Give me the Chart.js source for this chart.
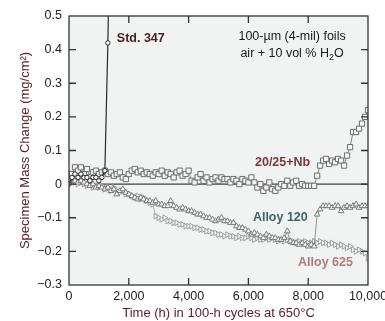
<!DOCTYPE html>
<html>
<head>
<meta charset="utf-8">
<script src="https://cdn.jsdelivr.net/npm/chart.js@4.4.0/dist/chart.umd.min.js"></script>
<style>
  html, body { margin: 0; padding: 0; background: #fff; }
  #chart { display: block; }
</style>
</head>
<body>
<canvas id="chart" width="385" height="321"></canvas>
<script>
// time axis: one reading per 100-h cycle
const hours = [
  0, 100, 200, 300, 400, 500, 600, 700, 800, 900,
  1000, 1100, 1200, 1300, 1400, 1500, 1600, 1700, 1800, 1900,
  2000, 2100, 2200, 2300, 2400, 2500, 2600, 2700, 2800, 2900,
  3000, 3100, 3200, 3300, 3400, 3500, 3600, 3700, 3800, 3900,
  4000, 4100, 4200, 4300, 4400, 4500, 4600, 4700, 4800, 4900,
  5000, 5100, 5200, 5300, 5400, 5500, 5600, 5700, 5800, 5900,
  6000, 6100, 6200, 6300, 6400, 6500, 6600, 6700, 6800, 6900,
  7000, 7100, 7200, 7300, 7400, 7500, 7600, 7700, 7800, 7900,
  8000, 8100, 8200, 8300, 8400, 8500, 8600, 8700, 8800, 8900,
  9000, 9100, 9200, 9300, 9400, 9500, 9600, 9700, 9800, 9900,
  10000
];

const std347 = [
  0.0, 0.02, 0.03, 0.02, 0.03, 0.02, 0.02, 0.01, 0.02, 0.02,
  0.01, 0.02, 0.04, 0.42, 0.95
];

const nb2025 = [
  0.01, 0.03, 0.05, 0.04, 0.05, 0.03, 0.045, 0.02, 0.035, 0.04,
  0.03, 0.035, 0.04, 0.03, 0.035, 0.025, 0.03, 0.035, 0.02, 0.015,
  0.03, 0.04, 0.045, 0.035, 0.04, 0.03, 0.035, 0.03, 0.025, 0.035,
  0.03, 0.04, 0.025, 0.035, 0.03, 0.02, 0.035, 0.04, 0.025, 0.03,
  0.04, 0.01, 0.005, 0.02, 0.03, 0.01, 0.02, 0.005, 0.015, 0.02,
  0.01, 0.02, 0.015, 0.015, 0.005, 0.015, 0.01, 0.0, 0.015, 0.01,
  0.005, 0.02, 0.005, -0.01, 0.0, -0.02, -0.01, 0.005, -0.015, -0.02,
  -0.01, 0.0, -0.005, 0.01, -0.005, 0.005, 0.01, -0.005, 0.0, -0.005,
  -0.005, -0.005, -0.005, 0.025, 0.055, 0.07, 0.075, 0.06, 0.07, 0.065,
  0.075, 0.07, 0.055, 0.085, 0.11, 0.155, 0.155, 0.165, 0.18, 0.2,
  0.22
];

const alloy120 = [
  0.01, 0.015, 0.01, 0.005, 0.01, 0.005, 0.0, -0.005, 0.0, -0.01,
  -0.005, -0.01, -0.015, -0.01, -0.02, -0.015, -0.03, -0.02, -0.015, -0.025,
  -0.03, -0.035, -0.04, -0.045, -0.04, -0.045, -0.05, -0.05, -0.055, -0.05,
  -0.06, -0.06, -0.065, -0.065, -0.05, -0.065, -0.07, -0.075, -0.07, -0.075,
  -0.08, -0.08, -0.085, -0.09, -0.09, -0.095, -0.1, -0.1, -0.105, -0.11,
  -0.105, -0.1, -0.11, -0.11, -0.115, -0.115, -0.125, -0.13, -0.13, -0.135,
  -0.14, -0.15, -0.145, -0.15, -0.155, -0.16, -0.15, -0.155, -0.16, -0.16,
  -0.165, -0.165, -0.16, -0.14, -0.17, -0.175, -0.175, -0.18, -0.175, -0.18,
  -0.185, -0.18, -0.185, -0.09, -0.075, -0.065, -0.065, -0.065, -0.07, -0.065,
  -0.065, -0.08, -0.07, -0.065, -0.07, -0.065, -0.06, -0.07, -0.065, -0.065,
  -0.065
];

const alloy625 = [
  0.0, 0.01, 0.005, 0.0, 0.005, 0.0, -0.005, 0.0, -0.01, -0.005,
  -0.01, -0.005, -0.015, -0.01, -0.02, -0.01, -0.02, -0.025, -0.02, -0.03,
  -0.03, -0.035, -0.04, -0.035, -0.045, -0.04, -0.05, -0.055, -0.06, -0.095,
  -0.1, -0.105, -0.1, -0.11, -0.11, -0.115, -0.115, -0.12, -0.12, -0.125,
  -0.125, -0.125, -0.13, -0.13, -0.135, -0.135, -0.14, -0.14, -0.145, -0.145,
  -0.15, -0.15, -0.155, -0.15, -0.155, -0.155, -0.16, -0.155, -0.16, -0.16,
  -0.155, -0.16, -0.165, -0.16, -0.165, -0.165, -0.16, -0.165, -0.16, -0.165,
  -0.17, -0.165, -0.17, -0.165, -0.17, -0.17, -0.175, -0.17, -0.175, -0.17,
  -0.175, -0.175, -0.17, -0.175, -0.17, -0.175, -0.175, -0.18, -0.175, -0.18,
  -0.185, -0.18, -0.185, -0.19, -0.185, -0.195, -0.2, -0.195, -0.2, -0.205,
  -0.22
];

const xTicks = [0, 2000, 4000, 6000, 8000, 10000];
const yTicks = [-0.3, -0.2, -0.1, 0, 0.1, 0.2, 0.3, 0.4, 0.5];

const FONT = '"Liberation Sans", Arial, Helvetica, sans-serif';
Chart.defaults.font.family = FONT;

function toPoints(values) {
  return values.map((y, i) => ({ x: hours[i], y: y }));
}

function fmtY(v) {
  const r = Math.round(v * 10) / 10;
  if (r === 0) return '0';
  return r < 0 ? '\u2212' + Math.abs(r).toFixed(1) : r.toFixed(1);
}

// labels inside the plot, anchored in data coordinates
const notes = [
  { text: 'Std. 347', x: 1600, y: 0.433, color: '#4a1c22' },
  { text: '20/25+Nb', x: 6220, y: 0.065, color: '#7d3838' },
  { text: 'Alloy 120', x: 6150, y: -0.098, color: '#3f6366' },
  { text: 'Alloy 625', x: 7660, y: -0.232, color: '#b07c7c' }
];

const framePlugin = {
  id: 'frame',
  beforeDraw(chart) {
    const { ctx, chartArea: a } = chart;
    ctx.save();
    ctx.fillStyle = '#f1f2f2';
    ctx.fillRect(a.left, a.top, a.right - a.left, a.bottom - a.top);
    // zero line
    const y0 = chart.scales.y.getPixelForValue(0);
    ctx.strokeStyle = '#3c3c3c';
    ctx.lineWidth = 1.2;
    ctx.beginPath();
    ctx.moveTo(a.left, y0);
    ctx.lineTo(a.right, y0);
    ctx.stroke();
    ctx.restore();
  },
  afterDatasetsDraw(chart) {
    const { ctx, chartArea: a, scales } = chart;
    ctx.save();
    ctx.strokeStyle = '#333';
    ctx.lineWidth = 1.3;
    ctx.strokeRect(a.left, a.top, a.right - a.left, a.bottom - a.top);

    // inward tick marks on all four sides
    const len = 7;
    ctx.beginPath();
    scales.x.ticks.forEach(t => {
      if (t.value <= 0 || t.value >= 10000) return;
      const px = scales.x.getPixelForValue(t.value);
      ctx.moveTo(px, a.bottom); ctx.lineTo(px, a.bottom - len);
      ctx.moveTo(px, a.top); ctx.lineTo(px, a.top + len);
    });
    scales.y.ticks.forEach(t => {
      if (t.value <= -0.3 || t.value >= 0.5) return;
      const py = scales.y.getPixelForValue(t.value);
      ctx.moveTo(a.left, py); ctx.lineTo(a.left + len, py);
      ctx.moveTo(a.right, py); ctx.lineTo(a.right - len, py);
    });
    ctx.stroke();

    // series labels
    ctx.textBaseline = 'middle';
    ctx.textAlign = 'left';
    ctx.font = 'bold 12.5px ' + FONT;
    notes.forEach(n => {
      ctx.fillStyle = n.color;
      ctx.fillText(n.text, scales.x.getPixelForValue(n.x), scales.y.getPixelForValue(n.y));
    });

    // test conditions
    ctx.fillStyle = '#1a1a1a';
    ctx.font = '12.5px ' + FONT;
    ctx.textAlign = 'center';
    const cx = scales.x.getPixelForValue(7460);
    ctx.fillText('100-\u00b5m (4-mil) foils', cx, scales.y.getPixelForValue(0.438));
    const ly = scales.y.getPixelForValue(0.388);
    const p1 = 'air + 10 vol % H', p3 = 'O';
    const w1 = ctx.measureText(p1).width;
    const w3 = ctx.measureText(p3).width;
    ctx.font = '9px ' + FONT;
    const w2 = ctx.measureText('2').width;
    const sx = cx - (w1 + w2 + w3) / 2;
    ctx.textAlign = 'left';
    ctx.font = '12.5px ' + FONT;
    ctx.fillText(p1, sx, ly);
    ctx.font = '9px ' + FONT;
    ctx.fillText('2', sx + w1, ly + 4);
    ctx.font = '12.5px ' + FONT;
    ctx.fillText(p3, sx + w1 + w2, ly);
    ctx.restore();
  }
};

const ctx = document.getElementById('chart').getContext('2d');
const chart = new Chart(ctx, {
  type: 'line',
  data: {
    datasets: [
      {
        label: 'Std. 347',
        data: toPoints(std347),
        borderColor: '#2a2a2a',
        borderWidth: 1.2,
        pointStyle: 'circle',
        pointRadius: 2.2,
        pointBorderWidth: 1,
        pointBorderColor: '#2a2a2a',
        pointBackgroundColor: '#ffffff'
      },
      {
        label: '20/25+Nb',
        data: toPoints(nb2025),
        borderColor: '#858585',
        borderWidth: 1,
        pointStyle: 'rect',
        pointRadius: 3.7,
        pointBorderWidth: 1,
        pointBorderColor: '#6e6e6e',
        pointBackgroundColor: '#f4f5f5'
      },
      {
        label: 'Alloy 120',
        data: toPoints(alloy120),
        borderColor: '#929292',
        borderWidth: 1,
        pointStyle: 'triangle',
        pointRadius: 3.3,
        pointBorderWidth: 1,
        pointBorderColor: '#7c7c7c',
        pointBackgroundColor: '#f4f5f5'
      },
      {
        label: 'Alloy 625',
        data: toPoints(alloy625),
        borderColor: '#adadad',
        borderWidth: 1,
        pointStyle: 'triangle',
        pointRotation: 90,
        pointRadius: 3.3,
        pointBorderWidth: 1,
        pointBorderColor: '#a0a0a0',
        pointBackgroundColor: '#f4f5f5'
      }
    ]
  },
  options: {
    responsive: false,
    devicePixelRatio: 1,
    animation: false,
    layout: { padding: { top: 16, left: 0, right: 0, bottom: 0 } },
    plugins: {
      legend: { display: false },
      tooltip: { enabled: false }
    },
    scales: {
      x: {
        type: 'linear',
        min: 0,
        max: 10000,
        afterBuildTicks: s => { s.ticks = xTicks.map(v => ({ value: v })); },
        afterFit: s => { s.height = 36; s.paddingLeft = 0; s.paddingRight = 17; },
        ticks: {
          color: '#222',
          font: { size: 12.5 },
          padding: 4,
          maxRotation: 0,
          callback: v => v.toLocaleString('en-US')
        },
        grid: { display: false, drawTicks: false },
        border: { display: false },
        title: {
          display: true,
          text: 'Time (h) in 100-h cycles at 650\u00b0C',
          color: '#5a1c1e',
          font: { size: 13 },
          padding: { top: 0, bottom: 0 }
        }
      },
      y: {
        type: 'linear',
        min: -0.3,
        max: 0.5,
        afterBuildTicks: s => { s.ticks = yTicks.map(v => ({ value: v })); },
        afterFit: s => { s.width = 69; },
        ticks: {
          color: '#222',
          font: { size: 12.5 },
          padding: 7,
          callback: v => fmtY(v)
        },
        grid: { display: false, drawTicks: false },
        border: { display: false },
        title: {
          display: true,
          text: 'Specimen Mass Change (mg/cm\u00b2)',
          color: '#5a1c1e',
          font: { size: 13 },
          padding: { top: 18, bottom: 0 }
        }
      }
    }
  },
  plugins: [framePlugin]
});
</script>
</body>
</html>
